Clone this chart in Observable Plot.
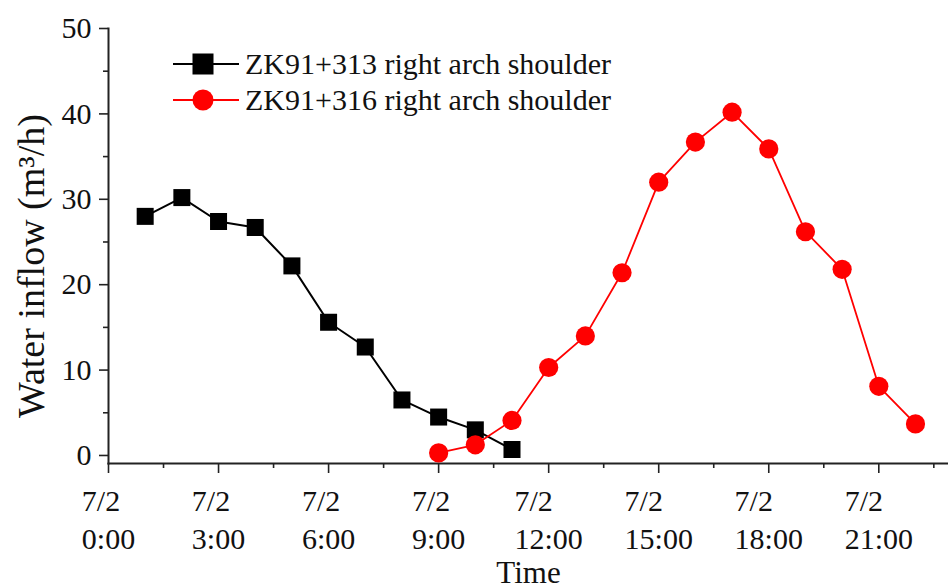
<!DOCTYPE html>
<html><head><meta charset="utf-8">
<script src="https://cdn.jsdelivr.net/npm/d3@7"></script>
<script src="https://cdn.jsdelivr.net/npm/@observablehq/plot@0.6"></script>
<style>
body{margin:0;background:#fff;}
#wrap{position:relative;width:948px;height:588px;font-family:"Liberation Serif","Times New Roman",serif;}
#wrap svg{font-family:"Liberation Serif","Times New Roman",serif;}
.legend{position:absolute;left:173px;top:45.5px;font-size:30px;color:#111;line-height:36px;}
.row{display:flex;align-items:center;height:36px;white-space:nowrap;}
.row svg{margin-right:6px;}
</style></head><body><div id="wrap"></div>
<script>
// Series 1: ZK91+313 right arch shoulder
const seriesNameA = "ZK91+313 right arch shoulder";
const hoursA = [1, 2, 3, 4, 5, 6, 7, 8, 9, 10, 11];
const flowA = [28.0, 30.2, 27.4, 26.7, 22.2, 15.6, 12.7, 6.5, 4.5, 3.0, 0.7];
// Series 2: ZK91+316 right arch shoulder
const seriesNameB = "ZK91+316 right arch shoulder";
const hoursB = [9, 10, 11, 12, 13, 14, 15, 16, 17, 18, 19, 20, 21, 22];
const flowB = [0.3, 1.25, 4.1, 10.3, 14.0, 21.4, 32.0, 36.7, 40.2, 35.9, 26.2, 21.8, 8.1, 3.7];
// Axes
const xMajorTicks = [0, 3, 6, 9, 12, 15, 18, 21];
const xMinorTicks = [1.5, 4.5, 7.5, 10.5, 13.5, 16.5, 19.5, 22.5];
const xTickDate = "7/2";
const yMajorTicks = [0, 10, 20, 30, 40, 50];
const yMinorTicks = [5, 15, 25, 35, 45];
const xLabel = "Time";
const yLabel = "Water inflow (m³/h)";

const dataA = hoursA.map((h, i) => ({h, v: flowA[i]}));
const dataB = hoursB.map((h, i) => ({h, v: flowB[i]}));

const chart = Plot.plot({
  width: 948,
  height: 588,
  marginLeft: 108,
  marginRight: 0,
  marginTop: 28,
  marginBottom: 125,
  style: {fontFamily: '"Liberation Serif","Times New Roman",serif', color: "#111", background: "#fff"},
  x: {domain: [0, 22.9]},
  y: {domain: [-0.94, 50]},
  marks: [
    Plot.frame({anchor: "left", stroke: "#222", strokeWidth: 2}),
    Plot.frame({anchor: "bottom", stroke: "#222", strokeWidth: 2}),
    Plot.axisY({ticks: yMajorTicks, tickSize: 9, tickPadding: 8, fontSize: 30, label: null, stroke: "#222", strokeWidth: 1.6}),
    Plot.axisY({ticks: yMinorTicks, tickSize: 5, text: null, label: null, stroke: "#222", strokeWidth: 1.6}),
    Plot.axisY({ticks: [], tickSize: 0, text: null, label: yLabel, labelArrow: "none", labelAnchor: "center", labelOffset: 91, fontSize: 38}),
    Plot.axisX({ticks: xMajorTicks, tickSize: 10, tickPadding: 10, fontSize: 30, lineHeight: 1.27, textAnchor: "start",
      tickFormat: d => `${xTickDate}\n${d}:00`, label: null, stroke: "#222", strokeWidth: 1.6}),
    Plot.axisX({ticks: xMinorTicks, tickSize: 5, text: null, label: null, stroke: "#222", strokeWidth: 1.6}),
    Plot.axisX({ticks: [], tickSize: 0, text: null, label: xLabel, labelArrow: "none", labelAnchor: "center", labelOffset: 119, fontSize: 31}),
    Plot.line(dataA, {x: "h", y: "v", stroke: "#000", strokeWidth: 2}),
    Plot.dot(dataA, {x: "h", y: "v", symbol: "square", r: 9.6, fill: "#000", stroke: "none"}),
    Plot.line(dataB, {x: "h", y: "v", stroke: "#ff0000", strokeWidth: 1.8}),
    Plot.dot(dataB, {x: "h", y: "v", symbol: "circle", r: 9.6, fill: "#ff0000", stroke: "none"})
  ]
});

const wrap = document.getElementById("wrap");
wrap.appendChild(chart);

// Strip any label arrows, just in case
chart.querySelectorAll('g[aria-label="x-axis label"] text, g[aria-label="y-axis label"] text').forEach(t => {
  t.textContent = t.textContent.replace(/\s*[→←↑↓]\s*/g, "");
});
// Nudge the y-axis title down to sit where the reference has it
chart.querySelectorAll('g[aria-label="y-axis label"] text').forEach(t => {
  const tr = t.getAttribute("transform") || "";
  t.setAttribute("transform", `translate(0,20) ${tr}`);
});

// Center each multi-line tick label block on its tick while keeping lines left-aligned
chart.querySelectorAll('g[aria-label="x-axis tick label"] text').forEach(t => {
  const w = t.getBBox().width;
  const tr = t.getAttribute("transform") || "";
  t.setAttribute("transform", `${tr} translate(${-w / 2},0)`);
});

// Legend overlay
const legend = document.createElement("div");
legend.className = "legend";
const rows = [
  {name: seriesNameA, color: "#000", shape: "square", sw: 2},
  {name: seriesNameB, color: "#ff0000", shape: "circle", sw: 1.8}
];
for (const r of rows) {
  const row = document.createElement("div");
  row.className = "row";
  const marker = r.shape === "square"
    ? `<rect x="19.5" y="7.5" width="21" height="21" fill="${r.color}"/>`
    : `<circle cx="30" cy="18" r="10.5" fill="${r.color}"/>`;
  row.innerHTML = `<svg width="66" height="36"><line x1="0" x2="66" y1="18" y2="18" stroke="${r.color}" stroke-width="${r.sw}"/>${marker}</svg><span>${r.name}</span>`;
  legend.appendChild(row);
}
wrap.appendChild(legend);
</script>
</body></html>
